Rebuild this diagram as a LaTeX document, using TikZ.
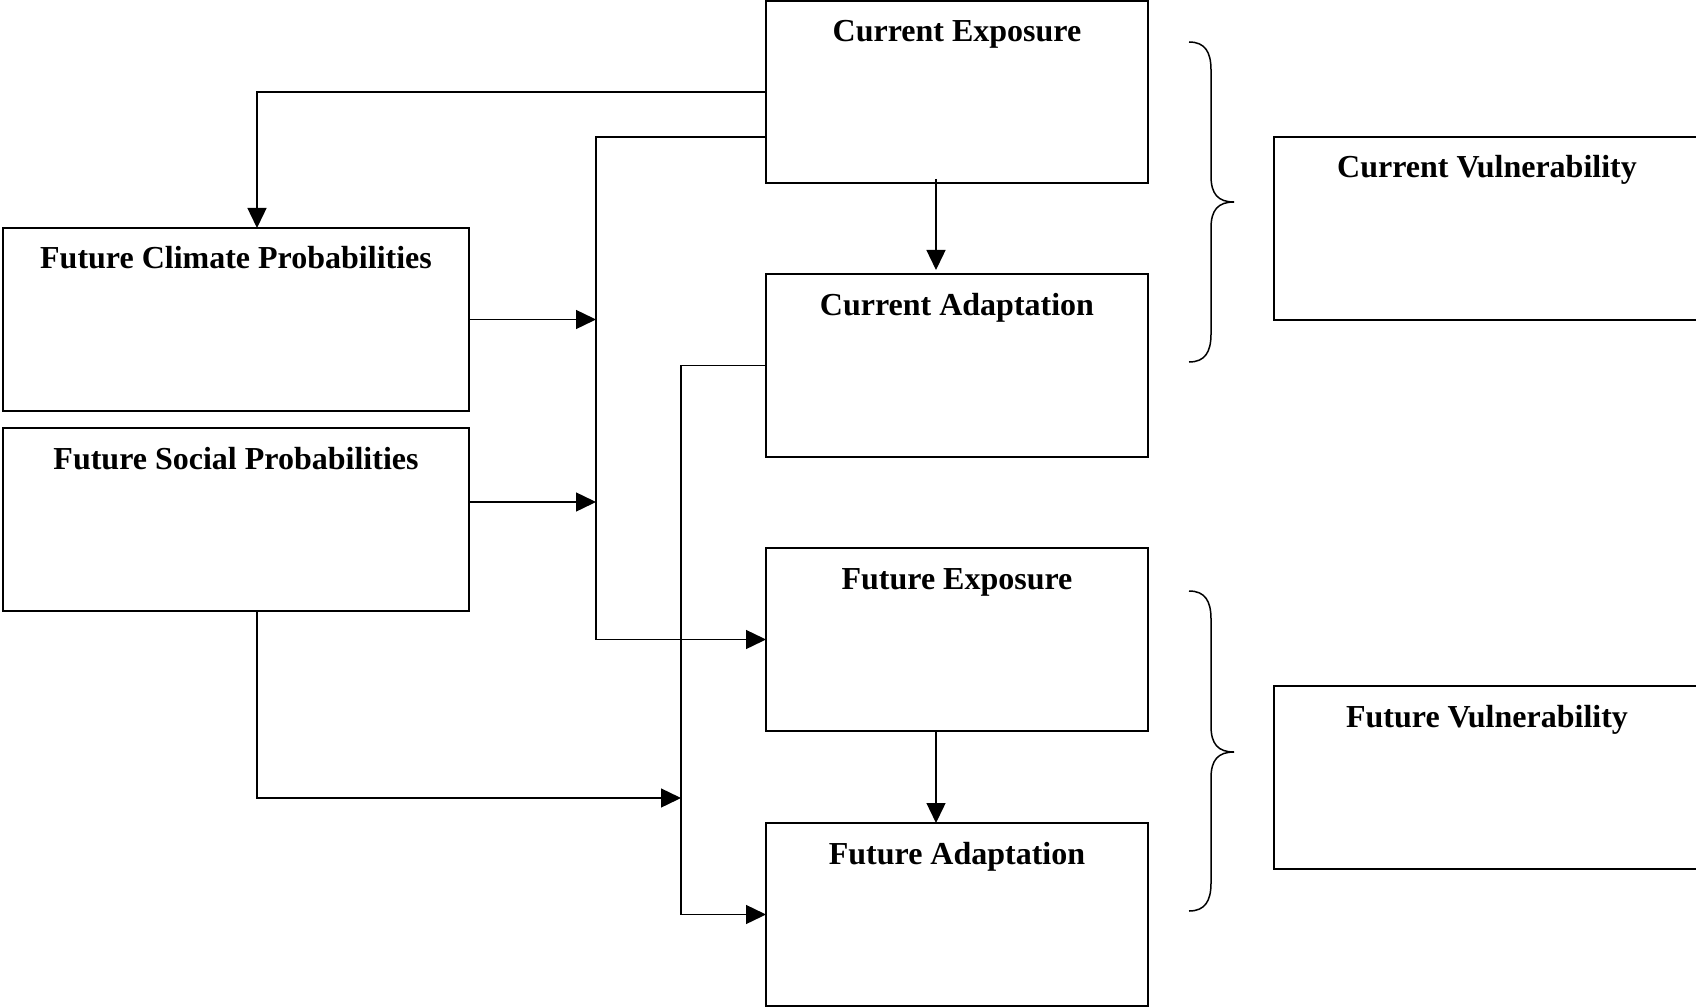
\documentclass[tikz,border=0pt]{standalone}
\usepackage{fontspec}
\setmainfont{Liberation Serif}
\usetikzlibrary{arrows.meta,calc}
\tikzset{
  box/.style={draw=black, line width=1.6pt, minimum height=183pt, inner sep=0pt, outer sep=0pt},
  narrowbox/.style={box, minimum width=382pt},
  widebox/.style={box, minimum width=466pt},
  vulnbox/.style={box, minimum width=426pt},
  title/.style={anchor=base, inner sep=0pt, font=\fontsize{32}{38}\selectfont\bfseries},
  conn/.style={line width=1.4pt, draw=black},
  arr/.style={conn, -{Triangle[length=20pt,width=19pt]}},
  bracepath/.style={line width=1.5pt, draw=black}
}
\begin{document}
\begin{tikzpicture}[x=1pt, y=-1pt]
\useasboundingbox (0,0) rectangle (1696,1008);
\clip (0,0) rectangle (1696,1008);
\fill[white] (0,0) rectangle (1696,1008);

% boxes
\node[narrowbox, minimum height=182pt] (ce) at (957,92) {};
\node[narrowbox] (ca) at (957,365.5) {};
\node[narrowbox] (fe) at (957,639.5) {};
\node[narrowbox] (fa) at (957,914.5) {};
\node[widebox] (fc) at (236,319.5) {};
\node[widebox] (fs) at (236,519.5) {};
\node[vulnbox] (cv) at (1487,228.5) {};
\node[vulnbox] (fv) at (1487,777.5) {};

% titles
\node[title] (ceT) at ([yshift=-41pt]ce.north) {Current Exposure};
\node[title] (caT) at ([yshift=-41pt]ca.north) {Current Adaptation};
\node[title] (feT) at ([yshift=-41pt]fe.north) {Future Exposure};
\node[title] (faT) at ([yshift=-41pt]fa.north) {Future Adaptation};
\node[title] (fcT) at ([yshift=-41pt]fc.north) {Future Climate Probabilities};
\node[title] (fsT) at ([yshift=-41pt]fs.north) {Future Social Probabilities};
\node[title] (cvT) at ([yshift=-41pt]cv.north) {Current Vulnerability};
\node[title] (fvT) at ([yshift=-41pt]fv.north) {Future Vulnerability};

% bus coordinates
\coordinate (busA) at (596,0);
\coordinate (busB) at (681,0);
\coordinate (fsjoin) at (681,798);

% connectors
\draw[arr] (ce.west) -| ([xshift=21pt]fc.north);
\draw[arr] ([yshift=-45pt]ce.west) coordinate (ceout) -| (busA |- fe.west) -- (fe.west);
\draw[arr] (fc.east) -- (busA |- fc.east);
\draw[arr] ([yshift=17.5pt]fs.east) coordinate (fsout) -- (busA |- fsout);
\draw[arr, shorten >=4pt] ([xshift=-21pt,yshift=4pt]ce.south) -- ([xshift=-21pt]ca.north);
\draw[arr] (ca.west) -| (busB |- fa.west) -- (fa.west);
\draw[arr] ([xshift=21pt]fs.south) |- (fsjoin);
\draw[arr] ([xshift=-21pt]fe.south) -- ([xshift=-21pt]fa.north);

% braces
\draw[bracepath] (1189,42) .. controls (1205,42) and (1211,52) .. (1211,70)
  -- (1211,176) .. controls (1211,194) and (1218,202) .. (1234,202)
  .. controls (1218,202) and (1211,210) .. (1211,228)
  -- (1211,334) .. controls (1211,352) and (1205,362) .. (1189,362);
\draw[bracepath] (1189,591) .. controls (1205,591) and (1211,601) .. (1211,619)
  -- (1211,726) .. controls (1211,744) and (1218,752) .. (1234,752)
  .. controls (1218,752) and (1211,760) .. (1211,778)
  -- (1211,883) .. controls (1211,901) and (1205,911) .. (1189,911);
\end{tikzpicture}
\end{document}
